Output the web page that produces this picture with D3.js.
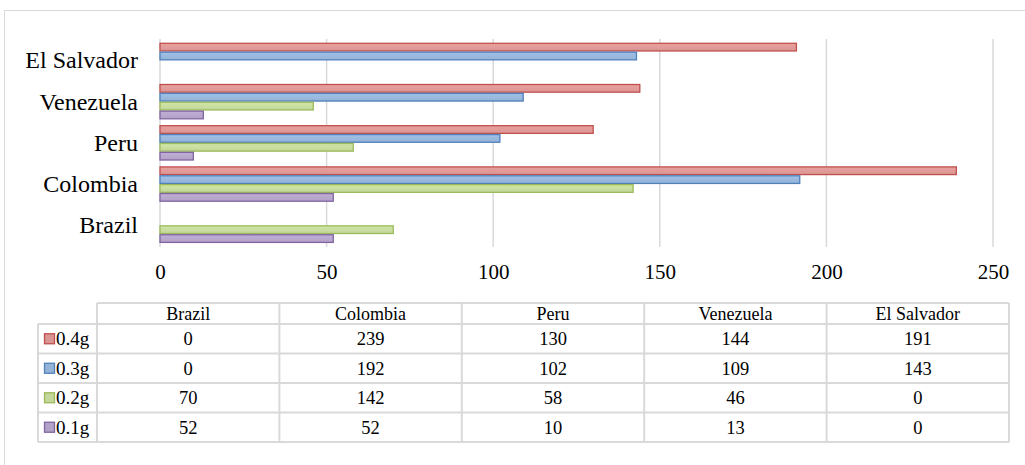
<!DOCTYPE html>
<html>
<head>
<meta charset="utf-8">
<script src="https://cdn.jsdelivr.net/npm/d3@7"></script>
<style>
  html, body { margin: 0; padding: 0; background: #fff; }
  svg { display: block; }
</style>
</head>
<body>
<svg id="chart" width="1025" height="465"></svg>
<script>
// Countries, in table order (bottom to top on the bar chart)
const categories = ["Brazil", "Colombia", "Peru", "Venezuela", "El Salvador"];
// Dose series, listed as in the data table
const seriesNames = ["0.4g", "0.3g", "0.2g", "0.1g"];
const values04 = [0, 239, 130, 144, 191];
const values03 = [0, 192, 102, 109, 143];
const values02 = [70, 142, 58, 46, 0];
const values01 = [52, 52, 10, 13, 0];
const xTicks = [0, 50, 100, 150, 200, 250];

const seriesValues = [values04, values03, values02, values01];
const fills = ["#d99694", "#95b3d7", "#c3d69b", "#b3a2c7"];
const strokes = ["#c0504d", "#4f81bd", "#9bbb59", "#8064a2"];
const FONT = "'Liberation Serif', 'Times New Roman', serif";

const svg = d3.select("#chart");
const defs = svg.append("defs");
fills.forEach((c, i) => {
  const g = defs.append("linearGradient").attr("id", "g" + i)
    .attr("x1", 0).attr("y1", 0).attr("x2", 0).attr("y2", 1);
  g.append("stop").attr("offset", "0%").attr("stop-color", d3.color(c).brighter(0.2));
  g.append("stop").attr("offset", "100%").attr("stop-color", c);
});

// Outer frame
svg.append("rect").attr("x", 4.5).attr("y", 10.5).attr("width", 1040).attr("height", 480)
  .attr("fill", "none").attr("stroke", "#d9d9d9").attr("stroke-width", 1);

// Scales
const x = d3.scaleLinear().domain([0, 250]).range([160, 993]);
const y = d3.scaleBand().domain(categories.slice().reverse()).range([39.85, 245.85])
  .paddingInner(0.138).paddingOuter(0.069);
const ySub = d3.scaleBand().domain(seriesNames).range([0, y.bandwidth()]);

// Vertical gridlines
svg.append("g").selectAll("line").data(xTicks).join("line")
  .attr("x1", d => x(d)).attr("x2", d => x(d))
  .attr("y1", 39).attr("y2", 247)
  .attr("stroke", "#d9d9d9").attr("stroke-width", 1.5);

// Bars
const groups = svg.append("g").selectAll("g").data(categories).join("g")
  .attr("transform", d => `translate(0,${y(d)})`);
groups.each(function(cat, ci) {
  const rows = seriesNames.map((s, si) => ({ s, si, v: seriesValues[si][ci] })).filter(d => d.v > 0);
  d3.select(this).selectAll("rect").data(rows).join("rect")
    .attr("x", x(0))
    .attr("y", d => ySub(d.s) + 0.6)
    .attr("width", d => x(d.v) - x(0))
    .attr("height", ySub.bandwidth() - 1.2)
    .attr("fill", d => `url(#g${d.si})`)
    .attr("stroke", d => strokes[d.si])
    .attr("stroke-width", 1.3);
});

// Category labels
svg.append("g").selectAll("text").data(categories).join("text")
  .attr("x", 138)
  .attr("y", d => y(d) + y.bandwidth() / 2 + 8)
  .attr("text-anchor", "end")
  .style("font-family", FONT)
  .attr("font-size", 24)
  .attr("fill", "#000")
  .text(d => d);

// X axis tick labels
const xAxis = d3.axisBottom(x).tickValues(xTicks).tickSize(0).tickPadding(0);
const ax = svg.append("g").attr("transform", "translate(0,279)").call(xAxis);
ax.select(".domain").remove();
ax.selectAll("text").style("font-family", FONT).attr("font-size", 21)
  .attr("fill", "#000").attr("dy", 0).attr("y", 0);

// Data table
const tableLeft = 38, labelRight = 97, tableRight = 1009;
const colW = (tableRight - labelRight) / categories.length;
const headerTop = 303, headerBottom = 324, rowH = 29.5;
const grid = svg.append("g").attr("stroke", "#d9d9d9").attr("stroke-width", 2).attr("fill", "none");
const tableBottom = headerBottom + rowH * seriesNames.length;

// horizontal lines
grid.append("line").attr("x1", labelRight).attr("x2", tableRight).attr("y1", headerTop).attr("y2", headerTop);
d3.range(seriesNames.length + 1).forEach(i => {
  const yy = headerBottom + i * rowH;
  grid.append("line").attr("x1", tableLeft).attr("x2", tableRight).attr("y1", yy).attr("y2", yy);
});
// vertical lines
grid.append("line").attr("x1", tableLeft).attr("x2", tableLeft).attr("y1", headerBottom).attr("y2", tableBottom);
d3.range(categories.length + 1).forEach(i => {
  const xx = labelRight + i * colW;
  grid.append("line").attr("x1", xx).attr("x2", xx).attr("y1", headerTop).attr("y2", tableBottom);
});

// header
svg.append("g").selectAll("text").data(categories).join("text")
  .attr("x", (d, i) => labelRight + colW * (i + 0.5))
  .attr("y", headerBottom - 4)
  .attr("text-anchor", "middle")
  .style("font-family", FONT)
  .attr("font-size", 18).text(d => d);

// rows
seriesNames.forEach((s, si) => {
  const cy = headerBottom + rowH * (si + 0.5);
  svg.append("rect").attr("x", 44.5).attr("y", cy - 5).attr("width", 10).attr("height", 10)
    .attr("fill", fills[si]).attr("stroke", strokes[si]).attr("stroke-width", 1.3);
  svg.append("text").attr("x", 56).attr("y", cy + 6.5)
    .style("font-family", FONT).attr("font-size", 19).text(s);
  svg.append("g").selectAll("text").data(seriesValues[si]).join("text")
    .attr("x", (d, i) => labelRight + colW * (i + 0.5))
    .attr("y", cy + 6.5)
    .attr("text-anchor", "middle")
    .style("font-family", FONT)
    .attr("font-size", 18.5).text(d => d);
});
</script>
</body>
</html>
